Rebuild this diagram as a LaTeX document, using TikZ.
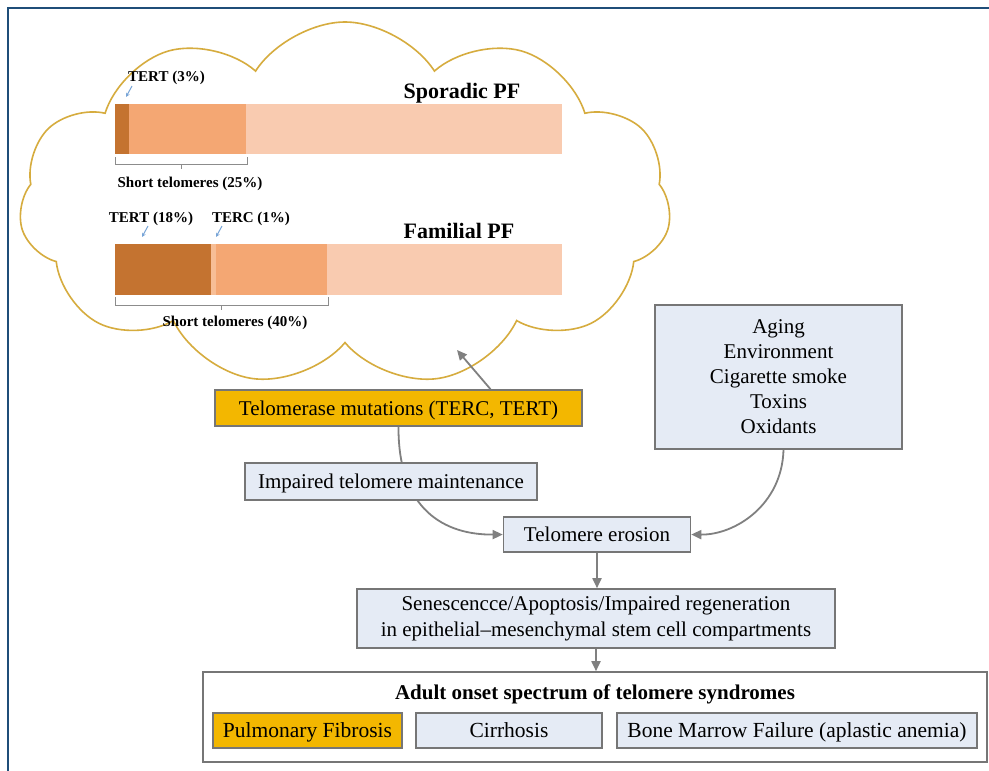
\documentclass[tikz,border=0pt]{standalone}
\usepackage{fontspec}
\setmainfont{Liberation Serif}
\usetikzlibrary{shapes.symbols,arrows.meta}
\definecolor{framec}{RGB}{31,78,121}
\definecolor{cloudc}{RGB}{214,172,62}
\definecolor{bordc}{RGB}{118,118,118}
\definecolor{arrc}{RGB}{128,128,128}
\definecolor{lightbox}{RGB}{229,235,245}
\definecolor{goldc}{RGB}{243,183,0}
\definecolor{bardark}{RGB}{196,115,48}
\definecolor{barmed}{RGB}{244,167,115}
\definecolor{barlight}{RGB}{249,203,176}
\definecolor{bargap}{RGB}{247,190,150}
\definecolor{brc}{RGB}{140,140,140}
\definecolor{tipc}{RGB}{120,165,215}
\newcommand\fsz[2]{\fontsize{#1}{#2}\selectfont}
\begin{document}
\begin{tikzpicture}[x=1pt,y=-1pt,
  box/.style={draw=bordc, line width=1.6pt, fill=lightbox, inner sep=0pt, align=center, font=\fsz{21}{25}},
  oneline/.style={text height=14pt, text depth=0pt},
  goldbox/.style={box, oneline, fill=goldc},
  botbox/.style={box, oneline, font=\fsz{21.5}{26}, minimum height=35pt},
  arr/.style={draw=arrc, line width=1.8pt, -{Triangle[length=10pt,width=9pt]}},
  small/.style={font=\bfseries\fsz{15}{18}, inner sep=0pt},
  bracket/.style={draw=brc, line width=0.8pt},
  tipar/.style={draw=tipc, line width=1pt, -{Stealth[length=4pt,width=4pt]}},
  title/.style={font=\bfseries\fsz{22}{26}, inner sep=0pt}]
\useasboundingbox (0,0) rectangle (989,771);
\fill[white] (0,0) rectangle (989,771);
\draw[framec, line width=1.5pt] (8,771) -- (8,8) -- (989,8);

% cloud
\node[cloud, cloud puffs=11, cloud puff arc=115, draw=cloudc, line width=1.6pt,
      minimum width=652pt, minimum height=364pt, inner sep=0pt] (cl) at (345,204) {};

% Sporadic bar
\fill[barlight] (246,104) rectangle (562,154);
\fill[barmed] (129,104) rectangle (246,154);
\fill[bardark] (115,104) rectangle (129,154);
% Familial bar
\fill[barlight] (327,244) rectangle (562,295);
\fill[barmed] (216,244) rectangle (327,295);
\fill[bargap] (211,244) rectangle (216,295);
\fill[bardark] (115,244) rectangle (211,295);

\node[title] (sp) at (462,93) {Sporadic PF};
\node[title] (fp) at (459,231) {Familial PF};
\node[small, anchor=west] (t3) at (128,78) {TERT (3\%)};
\node[small] (t18) at (151,219) {TERT (18\%)};
\node[small] (tc1) at (251,219) {TERC (1\%)};
\node[small] (st25) at (190,184) {Short telomeres (25\%)};
\node[small] (st40) at (235,323) {Short telomeres (40\%)};

\draw[tipar] (132,86) -- (126,97);
\draw[tipar] (148,226) -- (142,237);
\draw[tipar] (222,226) -- (216,237);

\draw[bracket] (115,157) -- (115,164) -- (247,164) -- (247,157);
\draw[bracket] (181,164) -- (181,169);
\draw[bracket] (115,297) -- (115,305) -- (328,305) -- (328,297);
\draw[bracket] (221,305) -- (221,310);

% flow boxes
\node[goldbox, minimum width=367pt, minimum height=36pt] (tm) at (398.5,408) {Telomerase mutations (TERC, TERT)};
\node[box, oneline, minimum width=187pt, minimum height=35pt] (er) at (597,534.5) {Telomere erosion};
\node[box, minimum width=247pt, minimum height=144pt] (ag) at (778.5,377)
  {Aging\\Environment\\Cigarette smoke\\Toxins\\Oxidants};
\node[box, minimum width=478pt, minimum height=59pt, font=\fsz{21}{26}] (se) at (596,618.5)
  {Senescencce/Apoptosis/Impaired regeneration\\in epithelial--mesenchymal stem cell compartments};
\node[draw=bordc, line width=1.6pt, fill=white, minimum width=784pt, minimum height=90pt, inner sep=0pt] (ad) at (595,717) {};
\node[title, font=\bfseries\fsz{21}{25}] (adt) at (595,694) {Adult onset spectrum of telomere syndromes};
\node[botbox, fill=goldc, minimum width=189pt] (pf) at (307.5,730.5) {Pulmonary Fibrosis};
\node[botbox, minimum width=186pt] (ci) at (509,730.5) {Cirrhosis};
\node[botbox, minimum width=360pt] (bm) at (797,730.5) {Bone Marrow Failure (aplastic anemia)};

% arrows
\coordinate (ctip) at (457,350);
\draw[arr] ([xshift=92pt]tm.north) -- (ctip);
\draw[arr] (tm.south) .. controls (398,510) and (445,535) .. (er.west);
\draw[arr] ([xshift=5pt]ag.south) .. controls (782,505) and (735,535) .. (er.east);
\draw[arr] (er.south) -- (er.south |- se.north);
\draw[arr] (se.south) -- (se.south |- ad.north);

% label box over the curved connector
\node[box, oneline, minimum width=292pt, minimum height=37pt] (im) at (391,481.5) {Impaired telomere maintenance};
\end{tikzpicture}
\end{document}
